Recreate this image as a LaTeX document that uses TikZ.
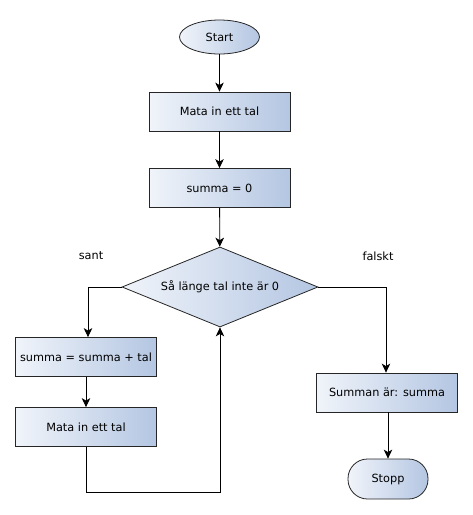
\documentclass[tikz,border=0pt]{standalone}
\usepackage{fontspec}
\setmainfont{DejaVu Sans}
\usetikzlibrary{shapes.geometric,arrows.meta}
\definecolor{fillL}{RGB}{240,244,250}
\definecolor{fillR}{RGB}{180,198,226}
\tikzset{
  base/.style={draw=black!85, line width=0.8pt, left color=fillL, right color=fillR,
    font=\fontsize{11.3}{13}\selectfont, inner sep=0pt},
  procbox/.style={base, rectangle, minimum width=141pt, minimum height=39pt},
  termoval/.style={base, ellipse, minimum width=80pt, minimum height=34pt},
  termround/.style={base, rectangle, rounded corners=19.5pt, minimum width=80pt, minimum height=40pt},
  decide/.style={base, diamond, aspect=2.45, minimum width=196pt, minimum height=80pt},
  flow/.style={draw=black, line width=0.8pt, -{Stealth[length=9pt,width=8.5pt,inset=2.5pt]}},
  lbl/.style={font=\fontsize{11.3}{13}\selectfont}
}
\begin{document}
\begin{tikzpicture}[x=1pt,y=-1pt]
  \useasboundingbox (0,0) rectangle (473,515);
  \node[termoval] (start) at (219.5,37) {Start};
  \node[procbox] (inp1) at (219.5,111.5) {Mata in ett tal};
  \node[procbox] (zero) at (219.5,188) {summa = 0};
  \node[decide] (loop) at (220,287) {Så länge tal inte är 0};
  \node[procbox] (add) at (86,357) {summa = summa + tal};
  \node[procbox] (inp2) at (86,427) {Mata in ett tal};
  \node[procbox] (out) at (387,392.5) {Summan är: summa};
  \node[termround] (stop) at (388,479) {Stopp};
  \coordinate (lcorner) at (88,287);
  \coordinate (rcorner) at (386,287);
  \coordinate (bl) at (86,492);
  \coordinate (br) at (220,492);
  \node[lbl] (sant) at (91,256) {sant};
  \node[lbl] (falskt) at (378,256) {falskt};

  \draw[flow] (start) -- (inp1);
  \draw[flow] (inp1) -- (zero);
  \draw[flow] (zero) -- (loop);
  \draw[flow] (loop.west) -- (lcorner) -- (add.north -| lcorner);
  \draw[flow] (add) -- (inp2);
  \draw[flow] (inp2.south) -- (bl) -- (br) -- (loop.south);
  \draw[flow] (loop.east) -- (rcorner) -- (out.north -| rcorner);
  \draw[flow] (out.south -| stop.north) -- (stop.north);
\end{tikzpicture}
\end{document}
